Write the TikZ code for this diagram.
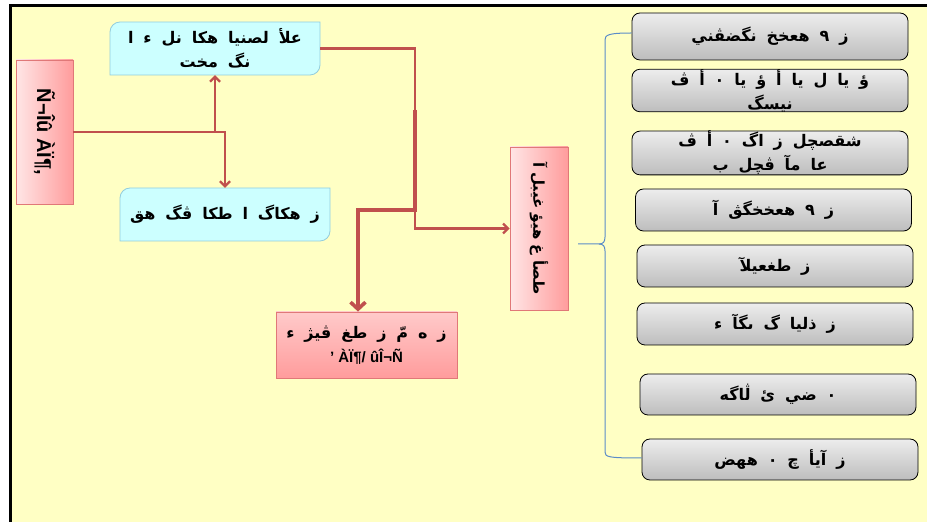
\documentclass[tikz,border=0pt]{standalone}
\usepackage{fontspec}
\newfontfamily\arabicfont[Script=Arabic]{DejaVu Sans}
\newfontfamily\latinfont{Liberation Sans}
\TeXXeTstate=1
\usetikzlibrary{arrows.meta,calc}
\definecolor{bgyellow}{HTML}{FFFFC4}
\definecolor{pinkL}{HTML}{FFE6E6}
\definecolor{pinkM}{HTML}{FFCACA}
\definecolor{pinkD}{HTML}{FF9C9C}
\definecolor{pinkB}{HTML}{E07878}
\definecolor{cyanF}{HTML}{CCFFFF}
\definecolor{cyanB}{HTML}{93CDDD}
\definecolor{grayT}{HTML}{EDEDED}
\definecolor{grayB}{HTML}{BDBDBD}
\definecolor{conred}{HTML}{C0504D}
\definecolor{braceblue}{HTML}{5B8CC8}
\newcommand{\artxt}[1]{{\arabicfont\bfseries\spaceskip=0.62em\beginR #1\endR}}
\newcommand{\artxtn}[1]{{\arabicfont\bfseries\spaceskip=0.35em\beginR #1\endR}}
\begin{document}
\begin{tikzpicture}[x=1pt,y=1pt,
  pinkv/.style={draw=pinkB, line width=0.8pt, left color=pinkL, right color=pinkD, inner sep=0pt},
  pinkh/.style={draw=pinkB, line width=0.8pt, top color=pinkM, bottom color=pinkD, inner sep=0pt, align=center},
  cyanshape/.style={draw=cyanB, line width=0.8pt, fill=cyanF},
  txtbox/.style={inner sep=0pt, align=center, font=\fontsize{16}{24}\selectfont},
  graybox/.style={draw=black, line width=0.8pt, rounded corners=8pt, top color=grayT, bottom color=grayB,
    minimum width=276pt, inner sep=0pt, align=center, font=\fontsize{16}{24}\selectfont},
  con/.style={draw=conred, line width=2.2pt, -{Straight Barb[length=5pt,width=10pt]}},
  conthick/.style={draw=conred, line width=3.6pt, -{Straight Barb[length=7pt,width=15pt]}},
  bracestyle/.style={draw=braceblue, line width=1pt}
]
\useasboundingbox (0,0) rectangle (927,522);
\fill[white] (0,0) rectangle (927,522);
\fill[bgyellow] (10,0) rectangle (927,516);
\draw[line width=3pt] (10,0) -- (10,516) -- (927,516);

% cyan boxes (diagonal rounded corners)
\path[cyanshape] (110,447) -- (110,490) arc[start angle=180,end angle=90,radius=10] -- (320,500) -- (320,457) arc[start angle=0,end angle=-90,radius=10] -- cycle;
\node[txtbox, minimum width=210pt, minimum height=53pt] (T) at (215,473.5)
  {\artxt{علأ لصنيا هكا نل ء ا}\\ \artxt{نگ مخت}};
\path[cyanshape] (120,281) -- (120,324) arc[start angle=180,end angle=90,radius=10] -- (330,334) -- (330,291) arc[start angle=0,end angle=-90,radius=10] -- cycle;
\node[txtbox, minimum width=210pt, minimum height=53pt] (C2) at (225,307.5)
  {\artxt{ز هكاگ ا طكا ڤگ هق}};

% pink boxes
\node[pinkv, minimum width=57pt, minimum height=144pt] (L) at (44.5,390) {};
\node[rotate=-90, inner sep=0pt, font=\latinfont\bfseries\fontsize{20}{20}\selectfont] (Lt) at (L.center) {Ñ¬Îû ÀÏ¶,};
\node[pinkv, minimum width=58pt, minimum height=163pt] (M) at (539,293.5) {};
\node[rotate=-90, inner sep=0pt, font=\fontsize{15}{15}\selectfont] (Mt) at (M.center) {\artxtn{طصأ غ هيؤ غيبل آ}};
\node[pinkh, minimum width=181pt, minimum height=66pt, font=\fontsize{16}{24}\selectfont] (B) at (366.5,177)
  {\artxt{ز ه مّ ز طغ ڤيژ ء}\\ {\latinfont\bfseries\fontsize{15}{24}\selectfont ’ ÀÏ¶/ ûÎ¬Ñ}};

% gray boxes
\node[graybox, minimum height=47pt] (G1) at (770,485.5) {\artxt{ز ٩ هعخخ نگضڤني}};
\node[graybox, minimum height=41pt] (G2) at (770,431.5) {\artxt{ؤ يا ل يا أ ؤ يا ٠ أ ڤ}\\ \artxt{نيسگ}};
\node[graybox, minimum height=42pt] (G3) at (770,369) {\artxt{شقصچل ز اگ ٠ أ ڤ}\\ \artxt{عا مآ ڤچل ب}};
\node[graybox, minimum height=42pt] (G4) at (773.5,312) {\artxt{ز ٩ هعخخگڨ آ}};
\node[graybox, minimum height=42pt] (G5) at (775,256) {\artxt{ز طغعيلآ}};
\node[graybox, minimum height=42pt] (G6) at (775,198) {\artxt{ز ذليا گ ىگآ ء}};
\node[graybox, minimum height=41pt] (G7) at (778,127.5) {\artxt{٠ ضي ئ ڷاگه}};
\node[graybox, minimum height=41pt] (G8) at (780,62.5) {\artxt{ز آيأ چ ٠ ههض}};

% connectors
\draw[con] (L.east) -- (C2.north |- L.east) -- (C2.north);
\draw[con] (T.south |- L.east) -- (T.south);
\draw[con] (T.east) -- ($(T.east)+(95,0)$) |- (M.west);
\coordinate (j1) at (415,412);
\coordinate (j2) at (415,312);
\draw[conthick] (j1) -- (j2) -| ([xshift=-8.5pt]B.north);

% brace
\coordinate (bs) at (578,278);
\draw[bracestyle] (bs) -- (599,278) .. controls (603,278) and (605,280) .. (605,285) -- (605,482) .. controls (605,487) and (608,489) .. ([yshift=3.5pt]G1.west);
\draw[bracestyle] (599,278) .. controls (603,278) and (605,276) .. (605,271) -- (605,70) .. controls (605,65) and (608,64) .. ([yshift=1.5pt]G8.west);
\end{tikzpicture}
\end{document}
